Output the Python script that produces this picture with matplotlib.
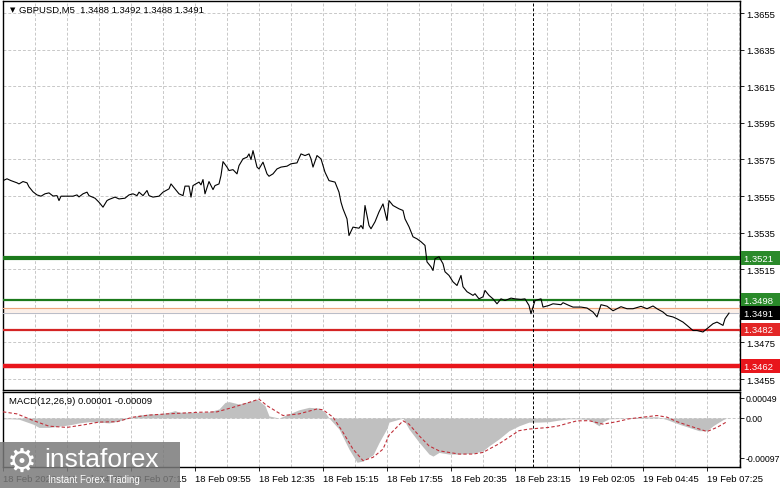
import matplotlib.pyplot as plt
import matplotlib.transforms as mtransforms
from matplotlib.patches import Rectangle

plt.rcParams['font.family'] = ['Liberation Sans', 'DejaVu Sans']

# close price line (bar index, price)
price_bars = [0, 2, 4, 7, 8, 10, 12, 13, 15, 17, 19, 21, 23, 25, 27, 28, 29, 32, 35, 37,
              38, 40, 42, 43, 46, 48, 50, 52, 53, 56, 58, 61, 63, 65, 67, 68, 70, 72, 73, 75,
              78, 80, 83, 84, 86, 88, 90, 91, 93, 94, 95, 98, 99, 100, 101, 103, 105, 106, 108, 109,
              110, 112, 113, 115, 117, 118, 120, 122, 123, 124, 125, 127, 128, 130, 132, 133, 135, 137, 139, 142,
              144, 147, 149, 151, 153, 154, 155, 157, 159, 161, 163, 166, 168, 169, 170, 172, 173, 175, 178, 179,
              180, 181, 183, 184, 186, 188, 190, 192, 193, 195, 198, 200, 201, 203, 205, 207, 209, 211, 212, 214,
              215, 216, 218, 220, 221, 223, 225, 227, 229, 230, 232, 235, 236, 238, 240, 241, 243, 245, 247, 249,
              251, 254, 256, 259, 261, 263, 264, 266, 269, 270, 273, 275, 279, 280, 283, 285, 289, 292, 295, 297,
              299, 302, 305, 309, 312, 315, 319, 322, 325, 327, 330, 332, 335, 337, 340, 342, 345, 347, 350, 352,
              355, 357, 360, 361, 363]
price_vals = [1.35634, 1.35644, 1.35634, 1.35622, 1.35616, 1.35629, 1.35622, 1.35600, 1.35573, 1.35556,
              1.35549, 1.35562, 1.35567, 1.35550, 1.35552, 1.35525, 1.35549, 1.35549, 1.35549, 1.35556,
              1.35545, 1.35562, 1.35571, 1.35552, 1.35538, 1.35516, 1.35489, 1.35525, 1.35531, 1.35544,
              1.35534, 1.35538, 1.35556, 1.35562, 1.35552, 1.35571, 1.35552, 1.35580, 1.35552, 1.35544,
              1.35549, 1.35571, 1.35589, 1.35616, 1.35589, 1.35562, 1.35552, 1.35604, 1.35604, 1.35544,
              1.35607, 1.35626, 1.35611, 1.35640, 1.35562, 1.35629, 1.35585, 1.35607, 1.35616, 1.35662,
              1.35738, 1.35708, 1.35689, 1.35694, 1.35671, 1.35716, 1.35753, 1.35762, 1.35780, 1.35749,
              1.35798, 1.35708, 1.35698, 1.35735, 1.35671, 1.35658, 1.35671, 1.35698, 1.35708, 1.35713,
              1.35726, 1.35731, 1.35780, 1.35771, 1.35780, 1.35753, 1.35708, 1.35771, 1.35753, 1.35680,
              1.35634, 1.35626, 1.35571, 1.35516, 1.35480, 1.35425, 1.35334, 1.35380, 1.35374, 1.35389,
              1.35371, 1.35498, 1.35389, 1.35371, 1.35409, 1.35463, 1.35507, 1.35416, 1.35525, 1.35498,
              1.35480, 1.35471, 1.35425, 1.35382, 1.35327, 1.35316, 1.35300, 1.35280, 1.35190, 1.35163,
              1.35143, 1.35207, 1.35218, 1.35180, 1.35136, 1.35116, 1.35081, 1.35061, 1.35116, 1.35054,
              1.35027, 1.35007, 1.35016, 1.34988, 1.34999, 1.35034, 1.35007, 1.34988, 1.34961, 1.34988,
              1.34979, 1.34992, 1.34988, 1.34985, 1.34988, 1.34952, 1.34907, 1.34979, 1.34988, 1.34943,
              1.34952, 1.34961, 1.34956, 1.34967, 1.34952, 1.34943, 1.34943, 1.34938, 1.34916, 1.34889,
              1.34956, 1.34948, 1.34923, 1.34945, 1.34934, 1.34934, 1.34947, 1.34934, 1.34949, 1.34934,
              1.34916, 1.34897, 1.34889, 1.34879, 1.34861, 1.34843, 1.34815, 1.34815, 1.34807, 1.34825,
              1.34852, 1.34861, 1.34843, 1.34879, 1.34910]

title = "GBPUSD,M5  1.3488 1.3492 1.3488 1.3491"
price_ticks = [1.3455, 1.3475, 1.3515, 1.3535, 1.3555, 1.3575, 1.3595, 1.3615, 1.3635, 1.3655]

# support / resistance levels
levels = [1.3521, 1.3498, 1.3482, 1.3462]
level_labels = ["1.3521", "1.3498", "1.3482", "1.3462"]
level_colors = ['#1c7a1c', '#1c7a1c', '#d42424', '#e8161c']
level_box_colors = ['#2a8a2a', '#2a8a2a', '#e32626', '#e8161c']
level_widths = [3.0, 1.6, 1.6, 3.2]
ask_level = 1.3494
bid_level = 1.3491
day_sep_bar = 265

# MACD histogram and signal, in units of 1e-5
hist_bars = [0, 4, 8, 15, 18, 23, 28, 33, 38, 43, 48, 53, 58, 63, 68, 73, 78, 83, 86, 88,
             93, 98, 103, 108, 111, 113, 118, 123, 127, 131, 133, 138, 143, 148, 153, 158, 161, 163, 168, 173,
             177, 180, 185, 188, 192, 193, 198, 200, 203, 208, 213, 215, 218, 223, 228, 235, 240, 243, 248, 253,
             258, 263, 268, 273, 278, 283, 288, 293, 298, 300, 303, 310, 318, 327, 332, 338, 343, 348, 352, 355,
             360, 362]
hist_vals = [-2, -2, -3, -15, -23, -23, -20, -17, -12, -9, -10, -12, -7, 0, 7, 10, 10, 14, 18, 14,
             14, 14, 15, 22, 38, 40, 34, 40, 46, 30, 5, 0, 10, 20, 26, 24, 14, 0, -27, -76,
             -108, -105, -90, -60, -25, -10, -3, -1, -27, -59, -88, -93, -84, -88, -88, -86, -80, -68, -51, -31,
             -19, -10, -10, -9, -5, -2, -2, -4, -19, -9, -2, -1, 2, 3, -4, -15, -23, -31, -31, -19,
             -4, 0]
sig_bars = [0, 7, 15, 23, 32, 40, 48, 57, 65, 73, 82, 90, 98, 107, 115, 123, 128, 132, 140, 148,
            157, 160, 165, 170, 175, 180, 185, 190, 193, 200, 203, 208, 213, 218, 223, 228, 235, 240, 243, 248,
            253, 258, 263, 268, 273, 278, 283, 287, 293, 300, 307, 313, 320, 327, 332, 337, 343, 352, 357, 362]
sig_vals = [15, 10, -6, -20, -23, -17, -10, -9, 2, 7, 10, 12, 14, 15, 26, 38, 46, 30, 6, 10,
            22, 20, 2, -35, -76, -104, -96, -76, -42, -7, -15, -43, -68, -80, -84, -88, -88, -84, -76, -63,
            -47, -31, -27, -25, -23, -19, -12, -7, -6.5, -15, -9, -2, 2, 6, 2, -9, -19, -33, -23, -9]
macd_title = "MACD(12,26,9) 0.00001 -0.00009"
macd_ticks = [0.00049, 0.0, -0.00097]
macd_tick_labels = ["0.00049", "0.00", "-0.00097"]

time_ticks = [0, 32, 64, 96, 128, 160, 192, 224, 256, 288, 320, 352]
time_labels = ["18 Feb 2026", "18 Feb 04:35", "18 Feb 07:15", "18 Feb 09:55", "18 Feb 12:35",
               "18 Feb 15:15", "18 Feb 17:55", "18 Feb 20:35", "18 Feb 23:15", "19 Feb 02:05",
               "19 Feb 04:45", "19 Feb 07:25"]

W, H = 781, 489
fig = plt.figure(figsize=(W / 100, H / 100), dpi=100)
fs = 6.8

ax = fig.add_axes([3 / W, 1 - 391 / H, 737 / W, 389 / H])
ax2 = fig.add_axes([3 / W, 1 - 468 / H, 737 / W, 75 / H])

grid_kw = dict(color='#c8c8c8', linestyle=(0, (3, 2)), linewidth=0.7)

# price panel
ax.plot(price_bars, price_vals, color='black', linewidth=0.8, zorder=4)
for lv, c, lw in zip(levels, level_colors, level_widths):
    ax.axhline(lv, color=c, linewidth=lw, zorder=3)
ax.axhspan(bid_level, ask_level, color='#fbefe8', zorder=1)
ax.axhline(ask_level, color='#eda57a', linewidth=0.8, zorder=3)
ax.axhline(bid_level, color='#b8bcc8', linewidth=0.7, zorder=3)
ax.axvline(day_sep_bar, color='black', linestyle=(0, (3, 2)), linewidth=0.7, zorder=3)

ax.set_xlim(0, 368.5)
ax.set_ylim(1.344899, 1.366156)
ax.set_xticks(range(16, 369, 16))
ax.tick_params(axis='x', length=0, labelbottom=False)
ax.yaxis.tick_right()
ax.set_yticks(price_ticks)
ax.set_yticklabels([f"{t:.4f}" for t in price_ticks])
ax.tick_params(axis='y', length=3, width=0.6, labelsize=fs, pad=1.5)
ax.grid(True, **grid_kw)
ax.set_axisbelow(True)

ax.text(7 / 737, 1 - 8 / 389, "\u25bc", transform=ax.transAxes, fontsize=5, va='center', ha='left',
        family='DejaVu Sans')
ax.text(16 / 737, 1 - 8 / 389, title, transform=ax.transAxes, fontsize=fs, va='center', ha='left')

trans = mtransforms.blended_transform_factory(ax.transAxes, ax.transData)
box_kw = dict(boxstyle='square,pad=0.25', ec='none')
ax.text(1.005, ask_level, "1.3494  ", transform=trans, fontsize=fs, color='white', va='center', ha='left',
        bbox=dict(fc='#ee9a70', **box_kw), zorder=5, clip_on=False)
for lv, lab, bc in zip(levels, level_labels, level_box_colors):
    ax.text(1.005, lv, lab + "  ", transform=trans, fontsize=fs, color='white', va='center', ha='left',
            bbox=dict(fc=bc, **box_kw), zorder=6, clip_on=False)
ax.text(1.005, bid_level, "1.3491  ", transform=trans, fontsize=fs, color='white', va='center', ha='left',
        bbox=dict(fc='black', **box_kw), zorder=7, clip_on=False)

# MACD panel
ax2.fill_between(hist_bars, 0, [v * 1e-5 for v in hist_vals], color='#c0c0c0', linewidth=0, zorder=2)
ax2.plot(sig_bars, [v * 1e-5 for v in sig_vals], color='#c0303a', linestyle=(0, (3, 2)),
         linewidth=0.8, zorder=3)
ax2.axvline(day_sep_bar, color='black', linestyle=(0, (3, 2)), linewidth=0.7, zorder=3)
ax2.set_xlim(0, 368.5)
ax2.set_ylim(-0.0011956, 0.000634)
ax2.yaxis.tick_right()
ax2.set_yticks(macd_ticks)
ax2.set_yticklabels(macd_tick_labels)
ax2.tick_params(axis='y', length=3, width=0.6, labelsize=6.3, pad=1)
ax2.set_xticks(time_ticks)
ax2.set_xticklabels(time_labels, ha='left')
ax2.set_xticks(range(16, 369, 32), minor=True)
ax2.tick_params(axis='x', which='major', length=3, width=0.6, labelsize=fs, pad=2)
ax2.tick_params(axis='x', which='minor', length=0)
ax2.grid(True, axis='x', which='both', **grid_kw)
ax2.axhline(0, **grid_kw, zorder=1)
ax2.set_axisbelow(True)
ax2.text(6 / 737, 1 - 8 / 75, macd_title, transform=ax2.transAxes, fontsize=fs, va='center', ha='left')

for a in (ax, ax2):
    for s in a.spines.values():
        s.set_linewidth(1.0)
        s.set_color('black')

# watermark logo
fig.patches.append(Rectangle((0, 0), 180 / W, 46 / H, transform=fig.transFigure,
                             facecolor='#7a7a7a', alpha=0.85, edgecolor='none', zorder=10))
fig.text(7 / W, 1 - 462 / H, "\u2699", fontsize=24, color='white', va='center', ha='left', zorder=11,
         family='DejaVu Sans')
fig.text(44 / W, 1 - 460 / H, "instaforex", fontsize=19, color='white', va='center', ha='left', zorder=11)
fig.text(48 / W, 1 - 480 / H, "Instant Forex Trading", fontsize=7, color='white', va='center',
         ha='left', zorder=11)

fig.savefig("out.png", dpi=100)
